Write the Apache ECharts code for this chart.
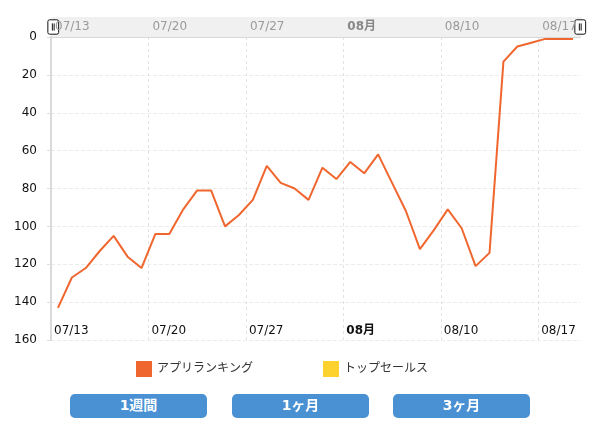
<!DOCTYPE html>
<html>
<head>
<meta charset="utf-8">
<script src="https://cdn.jsdelivr.net/npm/echarts@6/dist/echarts.min.js"></script>
<style>
  body { margin: 0; background: #fff; }
  .box { position: relative; width: 604px; height: 433px; }
  .chart { position: absolute; left: 0; top: 0; width: 604px; height: 433px; }
  .btn {
    position: absolute; top: 394px; width: 137px; height: 24px; line-height: 24px;
    background: #4a91d3; color: #fff; border-radius: 5px; text-align: center;
    font: bold 14px "DejaVu Sans", "Noto Sans CJK JP", sans-serif;
  }
</style>
</head>
<body>
<div class="box">
  <div class="chart" id="chart"></div>
  <div class="btn" style="left:70px">1週間</div>
  <div class="btn" style="left:232px">1ヶ月</div>
  <div class="btn" style="left:393px">3ヶ月</div>
</div>
<script>
// 日付（07/13 〜 08/19）
const days = [
  '07/13', '07/14', '07/15', '07/16', '07/17', '07/18', '07/19',
  '07/20', '07/21', '07/22', '07/23', '07/24', '07/25', '07/26',
  '07/27', '07/28', '07/29', '07/30', '07/31', '08/01', '08/02',
  '08/03', '08/04', '08/05', '08/06', '08/07', '08/08', '08/09',
  '08/10', '08/11', '08/12', '08/13', '08/14', '08/15', '08/16',
  '08/17', '08/18', '08/19'
]
// アプリランキング順位
const appRanking = [
  143, 127, 122, 113, 105, 116, 122,
  104, 104, 91, 81, 81, 100, 94,
  86, 68, 77, 80, 86, 69, 75,
  66, 72, 62, 77, 92, 112, 102,
  91, 101, 121, 114, 13, 5, 3,
  1, 1, 1
]
// トップセールス（データなし）
const topSales = []
// 週ごとの目盛ラベル
const weekLabels = ['07/13', '07/20', '07/27', '08月', '08/10', '08/17']
const rankTicks = [0, 20, 40, 60, 80, 100, 120, 140, 160]

const FONT = '"DejaVu Sans", "Noto Sans CJK JP", sans-serif'

function weekLabel (v) {
  const i = Math.round(v / 7)
  if (v % 7 !== 0 || i >= weekLabels.length) return ''
  const t = weekLabels[i]
  return t.indexOf('月') > -1 ? '{b|' + t + '}' : t
}

// 各日の中央に点を置く
const seriesData = appRanking.map((v, i) => [i + 0.5, v])

const instance = echarts.init(document.getElementById('chart'))
instance.setOption({
  animation: false,
  textStyle: { fontFamily: FONT },
  color: ['#f0662f', '#fdd22e'],
  grid: { left: 51, right: 24, top: 37, bottom: 93 },
  legend: {
    left: 136,
    top: 361,
    padding: 0,
    itemWidth: 16,
    itemHeight: 16,
    itemGap: 70,
    icon: 'rect',
    textStyle: { fontSize: 12, color: '#333', fontFamily: FONT },
    data: ['アプリランキング', 'トップセールス']
  },
  dataZoom: [{
    type: 'slider',
    xAxisIndex: [0, 1],
    filterMode: 'none',
    left: 51,
    right: 24,
    top: 17,
    height: 20,
    start: 0,
    end: 100,
    z: 2,
    showDataShadow: false,
    showDetail: false,
    brushSelect: false,
    moveHandleSize: 0,
    moveHandleStyle: { opacity: 0 },
    backgroundColor: '#f0f0f0',
    fillerColor: 'rgba(0,0,0,0)',
    borderColor: 'transparent',
    handleIcon: 'path://M2,0 H10 A2,2 0 0 1 12,2 V14 A2,2 0 0 1 10,16 H2 A2,2 0 0 1 0,14 V2 A2,2 0 0 1 2,0 Z M5,4 V12 M7,4 V12',
    handleSize: '72%',
    handleStyle: { color: '#fff', borderColor: '#111', borderWidth: 1 }
  }],
  xAxis: [{
    type: 'value',
    min: 0,
    max: days.length,
    interval: 7,
    position: 'bottom',
    axisLine: { show: true, lineStyle: { color: '#d8d8d8', width: 2 } },
    axisTick: { show: false },
    axisLabel: {
      inside: true,
      margin: 3,
      align: 'left',
      padding: [0, 0, 0, 3],
      color: '#111',
      fontSize: 12,
      showMaxLabel: false,
      formatter: weekLabel,
      rich: { b: { fontWeight: 'bold', color: '#111', fontSize: 12 } }
    },
    splitLine: {
      show: true,
      showMinLine: false,
      showMaxLine: false,
      lineStyle: { color: '#e2e2e2', type: [3, 3] }
    }
  }, {
    type: 'value',
    min: 0,
    max: days.length,
    interval: 7,
    position: 'top',
    z: 10,
    axisLine: { show: false },
    axisTick: { show: false },
    axisLabel: {
      margin: 4,
      align: 'left',
      padding: [0, 0, 0, 4],
      color: '#9a9a9a',
      fontSize: 12,
      showMaxLabel: false,
      formatter: weekLabel,
      rich: { b: { fontWeight: 'bold', color: '#888', fontSize: 12 } }
    },
    splitLine: { show: false }
  }],
  yAxis: {
    type: 'value',
    inverse: true,
    min: rankTicks[0],
    max: rankTicks[rankTicks.length - 1],
    interval: 20,
    axisLine: { show: true, lineStyle: { color: '#dadada', width: 2 } },
    axisTick: { show: true, length: 4, lineStyle: { color: '#ddd' } },
    axisLabel: { color: '#111', fontSize: 12, margin: 14 },
    splitLine: { show: true, lineStyle: { color: '#ececec', type: [4, 2] } }
  },
  series: [{
    name: 'アプリランキング',
    type: 'line',
    xAxisIndex: 0,
    data: seriesData,
    symbol: 'none',
    lineStyle: { width: 2, color: '#f0662f' },
    itemStyle: { color: '#f0662f' }
  }, {
    name: 'トップセールス',
    type: 'line',
    xAxisIndex: 0,
    data: topSales,
    symbol: 'none',
    itemStyle: { color: '#fdd22e' }
  }]
})
</script>
</body>
</html>
